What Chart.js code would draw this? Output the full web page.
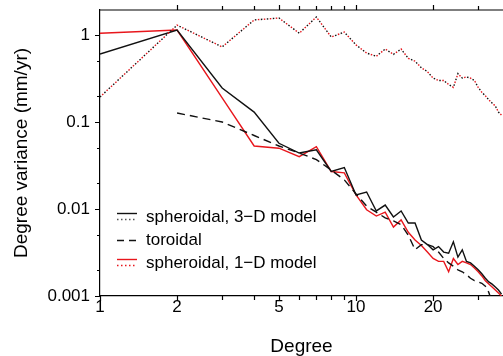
<!DOCTYPE html>
<html>
<head>
<meta charset="utf-8">
<script src="https://cdn.jsdelivr.net/npm/chart.js@4.4.1/dist/chart.umd.min.js"></script>
<style>
  html, body { margin: 0; padding: 0; background: #fff; }
  #wrap { width: 503px; height: 356px; }
</style>
</head>
<body>
<div id="wrap"><canvas id="graficoVariancia" width="503" height="356"></canvas></div>
<script>
// Dados (grau 1..37)
const graus = [1, 2, 3, 4, 5, 6, 7, 8, 9, 10, 11, 12, 13, 14, 15, 16, 17, 18, 19, 20,
  21, 22, 23, 24, 25, 26, 27, 28, 29, 30, 31, 32, 33, 34, 35, 36, 37];

// esferoidal, modelo 3-D (linha cheia preta)
const esferoidal3D = [0.605, 1.14, 0.246, 0.13, 0.057, 0.044, 0.048, 0.027, 0.030, 0.0145,
  0.0157, 0.0095, 0.0111, 0.0081, 0.0095, 0.0069, 0.0069, 0.0044, 0.0039, 0.0034,
  0.0037, 0.0032, 0.0031, 0.0042, 0.0028, 0.0034, 0.0025, 0.0024, 0.0022, 0.0020,
  0.0018, 0.0016, 0.00145, 0.00137, 0.00127, 0.00117, 0.00105];

// esferoidal, modelo 3-D (pontilhado preto)
const esferoidal3DPont = [0.194, 1.30, 0.73, 1.49, 1.57, 1.05, 1.61, 0.95, 1.08, 0.77,
  0.62, 0.57, 0.69, 0.60, 0.69, 0.54, 0.50, 0.42, 0.38, 0.32,
  0.30, 0.30, 0.27, 0.25, 0.36, 0.32, 0.33, 0.32, 0.30, 0.25,
  0.22, 0.20, 0.18, 0.165, 0.153, 0.13, 0.12];

// toroidal (tracejado) - começa no grau 2
const toroidal = [null, 0.127, 0.10, 0.07, 0.053, 0.044, 0.037, 0.028, 0.0216, 0.0149,
  0.0108, 0.0092, 0.0079, 0.0073, 0.0066, 0.0050, 0.0034, 0.0039, 0.0039, 0.0037,
  0.0032, 0.0027, 0.0024, 0.0022, 0.0020, 0.0019, 0.00176, 0.0016, 0.0015, 0.00145,
  0.0014, 0.0013, 0.0011, 0.00085, 0.0007, 0.0006, 0.0005];

// esferoidal, modelo 1-D (linha cheia vermelha)
const esferoidal1D = [1.05, 1.14, 0.19, 0.053, 0.050, 0.040, 0.052, 0.027, 0.026, 0.0145,
  0.0098, 0.0083, 0.0092, 0.0062, 0.0075, 0.0054, 0.0044, 0.0038, 0.0032, 0.0027,
  0.0025, 0.0025, 0.0019, 0.0027, 0.0023, 0.0025, 0.0024, 0.0023, 0.0021, 0.0019,
  0.0017, 0.0015, 0.00137, 0.00127, 0.00117, 0.00108, 0.0010];

// esferoidal, modelo 1-D (pontilhado vermelho)
const esferoidal1DPont = [0.194, 1.30, 0.73, 1.49, 1.57, 1.05, 1.61, 0.95, 1.08, 0.77,
  0.62, 0.57, 0.69, 0.60, 0.69, 0.54, 0.50, 0.42, 0.38, 0.32,
  0.30, 0.30, 0.27, 0.25, 0.36, 0.32, 0.33, 0.32, 0.30, 0.25,
  0.22, 0.20, 0.18, 0.165, 0.153, 0.13, 0.12];

// Marcas dos eixos
const ticksX = [1, 2, 3, 4, 5, 6, 7, 8, 9, 10, 20, 30];
const rotulosX = [1, 2, 5, 10, 20];
const ticksY = [0.001, 0.002, 0.005, 0.01, 0.02, 0.05, 0.1, 0.2, 0.5, 1];
const rotulosY = [0.001, 0.01, 0.1, 1];

const PRETO = '#111';
const VERMELHO = 'rgb(232, 22, 28)';
const FONTE = '"Liberation Sans", Arial, sans-serif';

function montarPontos(valores) {
  return graus.map((g, i) => ({ x: g, y: valores[i] })).filter(p => p.y !== null);
}

// Moldura superior, marcas e legenda
const pluginMoldura = {
  id: 'moldura',
  afterDraw(chart) {
    const { ctx, chartArea: area, scales: { x, y } } = chart;
    ctx.save();
    ctx.strokeStyle = '#000';
    ctx.lineWidth = 1.2;
    ctx.beginPath();
    ctx.moveTo(area.left, area.top);
    ctx.lineTo(area.right, area.top);
    ticksX.forEach(v => {
      const px = Math.round(x.getPixelForValue(v)) + 0.5;
      const tam = rotulosX.includes(v) ? 5 : 4;
      ctx.moveTo(px, area.bottom);
      ctx.lineTo(px, area.bottom + tam);
      if (v > 1) {
        ctx.moveTo(px, area.top);
        ctx.lineTo(px, area.top - tam);
      }
    });
    ticksY.forEach(v => {
      const py = Math.round(y.getPixelForValue(v)) + 0.5;
      const tam = rotulosY.includes(v) ? 5 : 3;
      ctx.moveTo(area.left, py);
      ctx.lineTo(area.left - tam, py);
    });
    ctx.stroke();

    // Legenda
    const lx0 = area.left + 17;
    const lx1 = area.left + 37;
    const tx = area.left + 46;
    const linha = (yy, cor, dash, largura) => {
      ctx.beginPath();
      ctx.setLineDash(dash);
      ctx.strokeStyle = cor;
      ctx.lineWidth = largura;
      ctx.moveTo(lx0, yy);
      ctx.lineTo(lx1, yy);
      ctx.stroke();
    };
    linha(213.5, PRETO, [], 1.4);
    linha(219.5, '#555', [1.5, 2.5], 1.3);
    linha(240.5, PRETO, [7, 5], 1.4);
    linha(259.5, VERMELHO, [], 1.4);
    linha(265.5, VERMELHO, [1.5, 2.5], 1.3);
    ctx.setLineDash([]);
    ctx.fillStyle = '#000';
    ctx.font = '17px ' + FONTE;
    ctx.textBaseline = 'middle';
    ctx.textAlign = 'left';
    ctx.fillText('spheroidal, 3\u2212D model', tx, 217);
    ctx.fillText('toroidal', tx, 240);
    ctx.fillText('spheroidal, 1\u2212D model', tx, 263);
    ctx.restore();
  }
};

const ctx = document.getElementById('graficoVariancia').getContext('2d');
new Chart(ctx, {
  type: 'line',
  data: {
    datasets: [
      {
        label: 'spheroidal, 3-D model (dotted)',
        data: montarPontos(esferoidal3DPont),
        borderColor: PRETO, borderWidth: 1.4,
        borderDash: [1.5, 4.5], borderDashOffset: 0
      },
      {
        label: 'spheroidal, 1-D model (dotted)',
        data: montarPontos(esferoidal1DPont),
        borderColor: VERMELHO, borderWidth: 1.4,
        borderDash: [1.5, 4.5], borderDashOffset: 3
      },
      {
        label: 'toroidal',
        data: montarPontos(toroidal),
        borderColor: PRETO, borderWidth: 1.4,
        borderDash: [8, 5]
      },
      {
        label: 'spheroidal, 3-D model',
        data: montarPontos(esferoidal3D),
        borderColor: PRETO, borderWidth: 1.4
      },
      {
        label: 'spheroidal, 1-D model',
        data: montarPontos(esferoidal1D),
        borderColor: VERMELHO, borderWidth: 1.4
      }
    ]
  },
  options: {
    responsive: false,
    animation: false,
    layout: { padding: { top: 10, right: 0, bottom: 0, left: 0 } },
    elements: { point: { radius: 0 }, line: { tension: 0, fill: false } },
    plugins: {
      legend: { display: false },
      tooltip: { enabled: false }
    },
    scales: {
      x: {
        type: 'logarithmic',
        min: 1,
        max: 37.5,
        afterBuildTicks: s => { s.ticks = ticksX.map(v => ({ value: v })); },
        afterFit: s => { s.height = 60; s.paddingLeft = 0; s.paddingRight = 0; },
        ticks: {
          autoSkip: false, maxRotation: 0, padding: 1, color: '#000',
          font: { family: FONTE, size: 17 },
          callback: v => rotulosX.includes(v) ? String(v) : ''
        },
        grid: { display: true, drawOnChartArea: false, drawTicks: false },
        border: { display: true, color: '#000', width: 1.2 },
        title: {
          display: true, text: 'Degree', color: '#000',
          font: { family: FONTE, size: 19, lineHeight: 1.0 }, padding: { top: 0, bottom: 0 }
        }
      },
      y: {
        type: 'logarithmic',
        min: 0.001,
        max: 1.94,
        afterBuildTicks: s => { s.ticks = ticksY.map(v => ({ value: v })); },
        afterFit: s => { s.width = 100; s.paddingTop = 0; s.paddingBottom = 0; },
        ticks: {
          autoSkip: false, padding: 10, color: '#000',
          font: { family: FONTE, size: 17 },
          callback: v => rotulosY.includes(v) ? String(v) : ''
        },
        grid: { display: true, drawOnChartArea: false, drawTicks: false },
        border: { display: true, color: '#000', width: 1.2 },
        title: {
          display: true, text: 'Degree variance (mm/yr)', color: '#000',
          font: { family: FONTE, size: 19 }, padding: { top: 10.5, bottom: 0 }
        }
      }
    }
  },
  plugins: [pluginMoldura]
});
</script>
</body>
</html>
